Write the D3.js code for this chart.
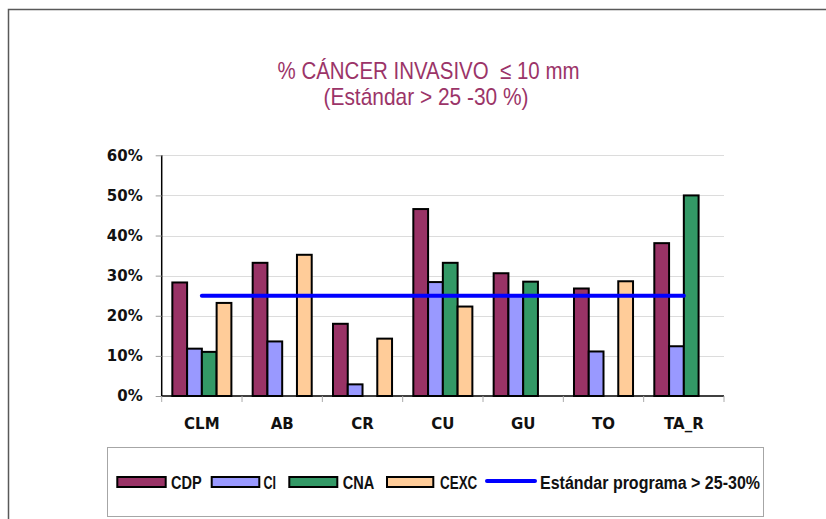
<!DOCTYPE html>
<html>
<head>
<meta charset="utf-8">
<script src="https://cdn.jsdelivr.net/npm/d3@7"></script>
<style>
  body { margin: 0; background: #fff; }
  svg { display: block; }
  text { white-space: pre; }
</style>
</head>
<body>
<svg id="chart" width="826" height="519"></svg>
<script>
// datos
var categorias = ["CLM", "AB", "CR", "CU", "GU", "TO", "TA_R"];
var series = ["CDP", "CI", "CNA", "CEXC"];
var CDP  = [28.3, 33.2, 18.0, 46.6, 30.6, 26.8, 38.1];
var CI   = [11.8, 13.6, 2.9, 28.4, 25.0, 11.1, 12.4];
var CNA  = [11.0, null, null, 33.2, 28.5, null, 50.0];
var CEXC = [23.2, 35.2, 14.3, 22.3, null, 28.6, null];
var estandar = [25, 25, 25, 25, 25, 25, 25];
var yTicks = [0, 10, 20, 30, 40, 50, 60];
var colores = ["#993366", "#9999ff", "#339966", "#ffcc99"];
var nombreLinea = "Estándar programa > 25-30%";
var titulo1 = "% CÁNCER INVASIVO  \u2264 10 mm";
var titulo2 = "(Estándar > 25 -30 %)";

var valores = { "CDP": CDP, "CI": CI, "CNA": CNA, "CEXC": CEXC };
var tabla = categorias.map(function(c, i) {
  var fila = { cat: c };
  series.forEach(function(s) { fila[s] = valores[s][i]; });
  return fila;
});

var svg = d3.select("#chart");

// marco exterior
svg.append("rect").attr("width", 826).attr("height", 519).attr("fill", "#fff");
svg.append("path")
  .attr("d", "M8.5,540 L8.5,9.5 L830,9.5")
  .attr("fill", "none").attr("stroke", "#595959").attr("stroke-width", 1.5);

// titulo
var tituloColor = "#9b3468";
svg.append("text")
  .attr("x", 428.5).attr("y", 78.5)
  .attr("text-anchor", "middle")
  .style("font-family", "Liberation Sans, Arial, sans-serif")
  .style("font-size", "24px")
  .attr("fill", tituloColor)
  .attr("textLength", 302).attr("lengthAdjust", "spacingAndGlyphs")
  .text(titulo1);
svg.append("text")
  .attr("x", 426).attr("y", 104.5)
  .attr("text-anchor", "middle")
  .style("font-family", "Liberation Sans, Arial, sans-serif")
  .style("font-size", "24px")
  .attr("fill", tituloColor)
  .attr("textLength", 205).attr("lengthAdjust", "spacingAndGlyphs")
  .text(titulo2);

// escalas
var x0 = d3.scaleBand().domain(categorias).range([161.7, 724]).paddingInner(0).paddingOuter(0);
var bw = x0.bandwidth();
var x1 = d3.scaleBand().domain(series).range([bw * 0.1325, bw * 0.8675]).padding(0);
var y = d3.scaleLinear().domain([0, 60]).range([396, 155.3]);
var z = d3.scaleOrdinal().domain(series).range(colores);

// rejilla
svg.append("g")
  .selectAll("line")
  .data(yTicks.filter(function(d) { return d > 0; }))
  .enter().append("line")
    .attr("x1", 161.7).attr("x2", 724)
    .attr("y1", function(d) { return Math.round(y(d)) + 0.5; })
    .attr("y2", function(d) { return Math.round(y(d)) + 0.5; })
    .attr("stroke", "#dcdcdc").attr("stroke-width", 1);

// barras
svg.append("g")
  .selectAll("g")
  .data(tabla)
  .enter().append("g")
    .attr("transform", function(d) { return "translate(" + x0(d.cat) + ",0)"; })
  .selectAll("rect")
  .data(function(d) {
    return series.filter(function(k) { return d[k] != null; })
                 .map(function(k) { return { key: k, value: d[k] }; });
  })
  .enter().append("rect")
    .attr("x", function(d) { return x1(d.key); })
    .attr("y", function(d) { return y(d.value); })
    .attr("width", x1.bandwidth())
    .attr("height", function(d) { return y(0) - y(d.value); })
    .attr("fill", function(d) { return z(d.key); })
    .attr("stroke", "#000").attr("stroke-width", 2);

// eje y
var ejeY = svg.append("g")
  .attr("transform", "translate(161.7,0)")
  .call(d3.axisLeft(y).tickValues(yTicks).tickFormat(function(d) { return d + "%"; }).tickSize(6).tickPadding(13));
ejeY.select(".domain").attr("stroke", "#000").attr("stroke-width", 1.5).attr("d", "M0," + y(60) + "V" + y(0));
ejeY.selectAll(".tick line").attr("stroke", "#999");
ejeY.selectAll("text")
  .style("font-family", "DejaVu Sans, sans-serif")
  .style("font-weight", "bold")
  .style("font-size", "15px")
  .attr("fill", "#111");

// eje x
var ejeX = svg.append("g")
  .attr("transform", "translate(0,396)")
  .call(d3.axisBottom(x0).tickSize(0).tickPadding(0));
ejeX.select(".domain").attr("stroke", "#000").attr("stroke-width", 1.5).attr("d", "M161.7,0H724");
ejeX.selectAll("text")
  .attr("y", 32.5)
  .attr("dy", 0)
  .style("font-family", "DejaVu Sans, sans-serif")
  .style("font-weight", "bold")
  .style("font-size", "15px")
  .attr("fill", "#111");
svg.append("g")
  .selectAll("line")
  .data(categorias.concat(["fin"]))
  .enter().append("line")
    .attr("x1", function(d, i) { return 161.7 + i * bw; })
    .attr("x2", function(d, i) { return 161.7 + i * bw; })
    .attr("y1", 396).attr("y2", 402)
    .attr("stroke", "#aaa").attr("stroke-width", 1);

// linea estandar
var linea = d3.line()
  .x(function(d, i) { return x0(categorias[i]) + bw / 2; })
  .y(function(d) { return y(d); });
svg.append("path")
  .datum(estandar)
  .attr("d", linea)
  .attr("fill", "none")
  .attr("stroke", "#0000ff")
  .attr("stroke-width", 4)
  .attr("stroke-linecap", "round");

// leyenda
svg.append("rect")
  .attr("x", 107.5).attr("y", 447.5).attr("width", 656).attr("height", 69)
  .attr("fill", "#fff").attr("stroke", "#a6a6a6").attr("stroke-width", 1);

var leyFont = "Liberation Sans, Arial, sans-serif";
var sw = [[117.3, 165.7], [211.7, 259.3], [289.3, 337.3], [387, 433.3]];
var txt = [[171, 30.7], [263.5, 12.5], [342.7, 31.6], [440, 37.3]];
var ley = svg.append("g");
series.forEach(function(s, i) {
  ley.append("rect")
    .attr("x", sw[i][0]).attr("y", 477)
    .attr("width", sw[i][1] - sw[i][0]).attr("height", 10)
    .attr("fill", z(s)).attr("stroke", "#000").attr("stroke-width", 2);
  ley.append("text")
    .attr("x", txt[i][0]).attr("y", 488.5)
    .style("font-family", leyFont).style("font-weight", "bold").style("font-size", "18px")
    .attr("fill", "#111")
    .attr("textLength", txt[i][1]).attr("lengthAdjust", "spacingAndGlyphs")
    .text(s);
});
ley.append("line")
  .attr("x1", 487).attr("x2", 535).attr("y1", 481).attr("y2", 481)
  .attr("stroke", "#0000ff").attr("stroke-width", 4).attr("stroke-linecap", "round");
ley.append("text")
  .attr("x", 540).attr("y", 488.5)
  .style("font-family", leyFont).style("font-weight", "bold").style("font-size", "18px")
  .attr("fill", "#111")
  .attr("textLength", 220).attr("lengthAdjust", "spacingAndGlyphs")
  .text(nombreLinea);
</script>
</body>
</html>
